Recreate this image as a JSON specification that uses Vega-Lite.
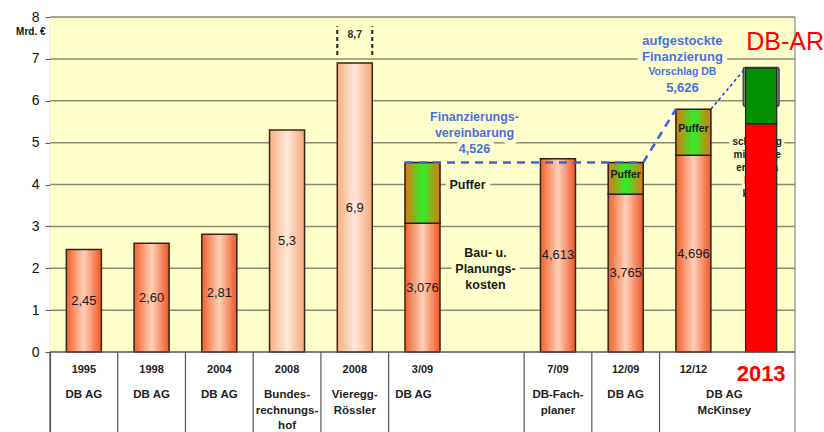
{
  "$schema": "https://vega.github.io/schema/vega-lite/v6.json",
  "width": 745,
  "height": 415,
  "autosize": {"type": "none"},
  "padding": {"left": 50, "top": 17, "right": 29, "bottom": 0},
  "background": "white",
  "resolve": {"axis": {"y": "independent"}},
  "config": {"view": {"stroke": null}, "font": "Liberation Sans",
    "axisX": {"disable": true},
    "axisY": {"labelFontSize": 14, "labelColor": "#111", "labelPadding": 6, "tickSize": 5, "tickColor": "#555", "domainColor": "#555", "domainWidth": 1.2, "grid": false,
      "titleAngle": 0, "titleAlign": "right", "titleBaseline": "middle", "titleX": -5, "titleY": 14, "titleFontSize": 10, "titleFontWeight": "bold", "titleColor": "#111"}},
  "datasets": {
    "bars": [
      {"col": "1995", "lo": 0, "hi": 2.45, "kind": "dark", "label": "2,45"},
      {"col": "1998", "lo": 0, "hi": 2.60, "kind": "dark", "label": "2,60"},
      {"col": "2004", "lo": 0, "hi": 2.81, "kind": "dark", "label": "2,81"},
      {"col": "2008 BRH", "lo": 0, "hi": 5.3, "kind": "light", "label": "5,3"},
      {"col": "2008 VR", "lo": 0, "hi": 6.9, "kind": "light", "label": "6,9"},
      {"col": "3/09", "lo": 0, "hi": 3.076, "kind": "dark", "label": "3,076"},
      {"col": "3/09", "lo": 3.076, "hi": 4.526, "kind": "puffer", "label": ""},
      {"col": "7/09", "lo": 0, "hi": 4.613, "kind": "dark", "label": "4,613"},
      {"col": "12/09", "lo": 0, "hi": 3.765, "kind": "dark", "label": "3,765"},
      {"col": "12/09", "lo": 3.765, "hi": 4.526, "kind": "puffer", "label": "Puffer"},
      {"col": "12/12", "lo": 0, "hi": 4.696, "kind": "dark", "label": "4,696"},
      {"col": "12/12", "lo": 4.696, "hi": 5.8, "kind": "puffer", "label": "Puffer"},
      {"col": "2013", "lo": 5.87, "hi": 6.8, "kind": "frame", "label": ""},
      {"col": "2013", "lo": 5.45, "hi": 6.78, "kind": "green", "label": ""},
      {"col": "2013", "lo": 0, "hi": 5.45, "kind": "red", "label": ""}
    ],
    "tbl": [
      {"col": "1995", "year": "1995", "src": "DB AG", "yv": -0.43, "sv": -0.884},
      {"col": "1998", "year": "1998", "src": "DB AG", "yv": -0.43, "sv": -0.884},
      {"col": "2004", "year": "2004", "src": "DB AG", "yv": -0.43, "sv": -0.884},
      {"col": "2008 BRH", "year": "2008", "src": "Bundes-\nrechnungs-\nhof", "yv": -0.43, "sv": -0.884},
      {"col": "2008 VR", "year": "2008", "src": "Vieregg-\nRössler", "yv": -0.43, "sv": -0.884},
      {"col": "3/09", "year": "3/09", "src": "DB AG", "yv": -0.43, "sv": -0.884},
      {"col": "7/09", "year": "7/09", "src": "DB-Fach-\nplaner", "yv": -0.43, "sv": -0.884},
      {"col": "12/09", "year": "12/09", "src": "DB AG", "yv": -0.43, "sv": -0.884},
      {"col": "12/12", "year": "12/12", "src": "DB AG\nMcKinsey", "yv": -0.43, "sv": -0.884}
    ]
  },
  "layer": [
    {
      "data": {"values": [{"lo": 0, "hi": 8}]},
      "mark": {"type": "rect", "fill": "#FFFFCC"},
      "encoding": {
        "y": {"field": "lo", "type": "quantitative", "scale": {"domain": [-1.91, 8], "nice": false, "zero": false}, "axis": null},
        "y2": {"field": "hi"}
      }
    },
    {
      "data": {"values": [{"v": 1}, {"v": 2}, {"v": 3}, {"v": 4}, {"v": 5}, {"v": 6}, {"v": 7}, {"v": 8}]},
      "mark": {"type": "rule", "color": "#8C8C72", "strokeWidth": 1.5},
      "encoding": {"y": {"field": "v", "type": "quantitative", "title": "Mrd. €", "axis": {"values": [0, 1, 2, 3, 4, 5, 6, 7, 8], "title": "Mrd. €"}}}
    },
    {
      "data": {"values": [{"col": "2013", "v": 5.13, "t": "schätzung\nmit Marge\nergibt ca\nlt. DB\nknapp"}]},
      "mark": {"type": "text", "lineBreak": "\n", "fontSize": 10, "fontWeight": "bold", "lineHeight": 13, "baseline": "top", "dx": -4, "fill": "#FFFFCC", "stroke": "#FFFFCC", "strokeWidth": 6},
      "encoding": {"x": {"field": "col", "type": "nominal"}, "y": {"field": "v", "type": "quantitative", "axis": null}, "text": {"field": "t"}}
    },
    {
      "data": {"values": [{"col": "2013", "v": 5.13, "t": "schätzung\nmit Marge\nergibt ca\nlt. DB\nknapp"}]},
      "mark": {"type": "text", "lineBreak": "\n", "fontSize": 10, "fontWeight": "bold", "lineHeight": 13, "baseline": "top", "dx": -4, "fill": "#222"},
      "encoding": {"x": {"field": "col", "type": "nominal"}, "y": {"field": "v", "type": "quantitative", "axis": null}, "text": {"field": "t"}}
    },
    {
      "data": {"values": [{"col": "3/09", "v": 4.0, "t": "Puffer"}]},
      "mark": {"type": "text", "fontSize": 12.5, "fontWeight": "bold", "dx": 45, "fill": "#FFFFCC", "stroke": "#FFFFCC", "strokeWidth": 9},
      "encoding": {"x": {"field": "col", "type": "nominal"}, "y": {"field": "v", "type": "quantitative", "axis": null}, "text": {"field": "t"}}
    },
    {
      "data": {"values": [{"col": "3/09", "v": 4.0, "t": "Puffer"}]},
      "mark": {"type": "text", "fontSize": 12.5, "fontWeight": "bold", "dx": 45, "fill": "#1a1a1a"},
      "encoding": {"x": {"field": "col", "type": "nominal"}, "y": {"field": "v", "type": "quantitative", "axis": null}, "text": {"field": "t"}}
    },
    {
      "data": {"values": [{"col": "3/09", "v": 2.5, "t": "Bau- u.\nPlanungs-\nkosten"}]},
      "mark": {"type": "text", "lineBreak": "\n", "fontSize": 12.5, "fontWeight": "bold", "lineHeight": 16, "baseline": "top", "dx": 63, "fill": "#FFFFCC", "stroke": "#FFFFCC", "strokeWidth": 9},
      "encoding": {"x": {"field": "col", "type": "nominal"}, "y": {"field": "v", "type": "quantitative", "axis": null}, "text": {"field": "t"}}
    },
    {
      "data": {"values": [{"col": "3/09", "v": 2.5, "t": "Bau- u.\nPlanungs-\nkosten"}]},
      "mark": {"type": "text", "lineBreak": "\n", "fontSize": 12.5, "fontWeight": "bold", "lineHeight": 16, "baseline": "top", "dx": 63, "fill": "#1a1a1a"},
      "encoding": {"x": {"field": "col", "type": "nominal"}, "y": {"field": "v", "type": "quantitative", "axis": null}, "text": {"field": "t"}}
    },
    {
      "data": {"values": [{"col": "3/09", "v": 5.755, "t": "Finanzierungs-\nvereinbarung\n4,526"}]},
      "mark": {"type": "text", "lineBreak": "\n", "fontSize": 12.5, "fontWeight": "bold", "lineHeight": 16, "baseline": "top", "dx": 52, "fill": "#FFFFCC", "stroke": "#FFFFCC", "strokeWidth": 10},
      "encoding": {"x": {"field": "col", "type": "nominal"}, "y": {"field": "v", "type": "quantitative", "axis": null}, "text": {"field": "t"}}
    },
    {
      "data": {"values": [{"col": "3/09", "v": 5.755, "t": "Finanzierungs-\nvereinbarung\n4,526"}]},
      "mark": {"type": "text", "lineBreak": "\n", "fontSize": 12.5, "fontWeight": "bold", "lineHeight": 16, "baseline": "top", "dx": 52, "fill": "#4A70E0"},
      "encoding": {"x": {"field": "col", "type": "nominal"}, "y": {"field": "v", "type": "quantitative", "axis": null}, "text": {"field": "t"}}
    },
    {
      "data": {"values": [{"col": "12/12", "v": 7.57, "t": "aufgestockte\nFinanzierung"}]},
      "mark": {"type": "text", "lineBreak": "\n", "fontSize": 13, "fontWeight": "bold", "lineHeight": 16, "baseline": "top", "dx": -11, "fill": "#FFFFCC", "stroke": "#FFFFCC", "strokeWidth": 10},
      "encoding": {"x": {"field": "col", "type": "nominal"}, "y": {"field": "v", "type": "quantitative", "axis": null}, "text": {"field": "t"}}
    },
    {
      "data": {"values": [{"col": "12/12", "v": 7.57, "t": "aufgestockte\nFinanzierung"}]},
      "mark": {"type": "text", "lineBreak": "\n", "fontSize": 13, "fontWeight": "bold", "lineHeight": 16, "baseline": "top", "dx": -11, "fill": "#4A70E0"},
      "encoding": {"x": {"field": "col", "type": "nominal"}, "y": {"field": "v", "type": "quantitative", "axis": null}, "text": {"field": "t"}}
    },
    {
      "data": {"values": [{"col": "12/12", "v": 6.69, "t": "Vorschlag DB"}]},
      "mark": {"type": "text", "fontSize": 10.5, "fontWeight": "bold", "dx": -11, "fill": "#4A70E0"},
      "encoding": {"x": {"field": "col", "type": "nominal"}, "y": {"field": "v", "type": "quantitative", "axis": null}, "text": {"field": "t"}}
    },
    {
      "data": {"values": [{"col": "12/12", "v": 6.30, "t": "5,626"}]},
      "mark": {"type": "text", "fontSize": 13, "fontWeight": "bold", "dx": -11, "fill": "#4A70E0"},
      "encoding": {"x": {"field": "col", "type": "nominal"}, "y": {"field": "v", "type": "quantitative", "axis": null}, "text": {"field": "t"}}
    },
    {
      "data": {"name": "bars"},
      "transform": [{"filter": "datum.kind === 'dark'"}],
      "mark": {"type": "bar", "width": {"band": 0.517}, "stroke": "#3B2314", "strokeWidth": 1.5,
        "fill": {"gradient": "linear", "x1": 0, "y1": 0, "x2": 1, "y2": 0, "stops": [{"offset": 0, "color": "#F2602C"}, {"offset": 0.5, "color": "#FFD0B8"}, {"offset": 1, "color": "#EF5626"}]}},
      "encoding": {
        "x": {"field": "col", "type": "nominal", "scale": {"domain": ["1995", "1998", "2004", "2008 BRH", "2008 VR", "3/09", "gap", "7/09", "12/09", "12/12", "2013"], "paddingInner": 0, "paddingOuter": 0}},
        "y": {"field": "lo", "type": "quantitative", "axis": null},
        "y2": {"field": "hi"}
      }
    },
    {
      "data": {"name": "bars"},
      "transform": [{"filter": "datum.kind === 'light'"}],
      "mark": {"type": "bar", "width": {"band": 0.517}, "stroke": "#3B2314", "strokeWidth": 1.5,
        "fill": {"gradient": "linear", "x1": 0, "y1": 0, "x2": 1, "y2": 0, "stops": [{"offset": 0, "color": "#F8AE84"}, {"offset": 0.5, "color": "#FFE8D8"}, {"offset": 1, "color": "#F6A67C"}]}},
      "encoding": {
        "x": {"field": "col", "type": "nominal"},
        "y": {"field": "lo", "type": "quantitative", "axis": null},
        "y2": {"field": "hi"}
      }
    },
    {
      "data": {"name": "bars"},
      "transform": [{"filter": "datum.kind === 'puffer'"}],
      "mark": {"type": "bar", "width": {"band": 0.517}, "stroke": "#2A1A10", "strokeWidth": 1.5,
        "fill": {"gradient": "linear", "x1": 0, "y1": 0, "x2": 1, "y2": 0, "stops": [{"offset": 0, "color": "#E0760E"}, {"offset": 0.5, "color": "#2CF02C"}, {"offset": 1, "color": "#E0760E"}]}},
      "encoding": {
        "x": {"field": "col", "type": "nominal"},
        "y": {"field": "lo", "type": "quantitative", "axis": null},
        "y2": {"field": "hi"}
      }
    },
    {
      "data": {"name": "bars"},
      "transform": [{"filter": "datum.kind === 'frame'"}],
      "mark": {"type": "bar", "width": {"band": 0.53}, "fill": "#8A8A8A", "stroke": "#333", "strokeWidth": 1.2, "cornerRadius": 2},
      "encoding": {
        "x": {"field": "col", "type": "nominal"},
        "y": {"field": "lo", "type": "quantitative", "axis": null},
        "y2": {"field": "hi"}
      }
    },
    {
      "data": {"name": "bars"},
      "transform": [{"filter": "datum.kind === 'green' || datum.kind === 'red'"}],
      "mark": {"type": "bar", "width": {"band": 0.46}, "stroke": "#222", "strokeWidth": 1.2},
      "encoding": {
        "x": {"field": "col", "type": "nominal"},
        "y": {"field": "lo", "type": "quantitative", "axis": null},
        "y2": {"field": "hi"},
        "fill": {"field": "kind", "type": "nominal", "scale": {"domain": ["green", "red"], "range": ["#009000", "#FF0000"]}, "legend": null}
      }
    },
    {
      "data": {"name": "bars"},
      "transform": [{"filter": "datum.label !== '' && datum.kind !== 'puffer'"}, {"calculate": "(datum.lo + datum.hi) / 2", "as": "mid"}],
      "mark": {"type": "text", "fontSize": 13, "fill": "#1a1a1a"},
      "encoding": {
        "x": {"field": "col", "type": "nominal"},
        "y": {"field": "mid", "type": "quantitative", "axis": null},
        "text": {"field": "label"}
      }
    },
    {
      "data": {"name": "bars"},
      "transform": [{"filter": "datum.label === 'Puffer'"}, {"calculate": "(datum.lo + datum.hi) / 2", "as": "mid"}],
      "mark": {"type": "text", "fontSize": 10.5, "fontWeight": "bold", "fill": "#1a1a1a", "dy": -3},
      "encoding": {
        "x": {"field": "col", "type": "nominal"},
        "y": {"field": "mid", "type": "quantitative", "axis": null},
        "text": {"field": "label"}
      }
    },
    {
      "data": {"values": [{"a": "3/09", "b": "12/09", "v": 4.526}]},
      "mark": {"type": "rule", "color": "#3A63E0", "strokeWidth": 2.5, "strokeDash": [8, 6]},
      "encoding": {
        "x": {"field": "a", "type": "nominal", "bandPosition": 0.2415},
        "x2": {"field": "b", "bandPosition": 0.7585},
        "y": {"field": "v", "type": "quantitative", "axis": null}
      }
    },
    {
      "data": {"values": [{"a": "12/09", "b": "12/12", "v1": 4.526, "v2": 5.8}]},
      "mark": {"type": "rule", "color": "#3A63E0", "strokeWidth": 2.5, "strokeDash": [8, 6]},
      "encoding": {
        "x": {"field": "a", "type": "nominal", "bandPosition": 0.7585},
        "x2": {"field": "b", "bandPosition": 0.2415},
        "y": {"field": "v1", "type": "quantitative", "axis": null},
        "y2": {"field": "v2"}
      }
    },
    {
      "data": {"values": [{"a": "12/12", "b": "2013", "v1": 5.8, "v2": 6.78}]},
      "mark": {"type": "rule", "color": "#1F2FE6", "strokeWidth": 1.5, "strokeDash": [3, 3]},
      "encoding": {
        "x": {"field": "a", "type": "nominal", "bandPosition": 0.7585},
        "x2": {"field": "b", "bandPosition": 0.27},
        "y": {"field": "v1", "type": "quantitative", "axis": null},
        "y2": {"field": "v2"}
      }
    },
    {
      "data": {"values": [{"col": "2008 VR", "lo": 7.09, "hi": 7.78}]},
      "mark": {"type": "rule", "color": "#222", "strokeWidth": 2, "strokeDash": [4, 3]},
      "encoding": {
        "x": {"field": "col", "type": "nominal", "bandPosition": 0.2415},
        "y": {"field": "lo", "type": "quantitative", "axis": null},
        "y2": {"field": "hi"}
      }
    },
    {
      "data": {"values": [{"col": "2008 VR", "lo": 7.09, "hi": 7.78}]},
      "mark": {"type": "rule", "color": "#222", "strokeWidth": 2, "strokeDash": [4, 3]},
      "encoding": {
        "x": {"field": "col", "type": "nominal", "bandPosition": 0.7585},
        "y": {"field": "lo", "type": "quantitative", "axis": null},
        "y2": {"field": "hi"}
      }
    },
    {
      "data": {"values": [{"col": "2008 VR", "v": 7.57, "t": "8,7"}]},
      "mark": {"type": "text", "fontSize": 10.5, "fontWeight": "bold", "fill": "#333"},
      "encoding": {"x": {"field": "col", "type": "nominal"}, "y": {"field": "v", "type": "quantitative", "axis": null}, "text": {"field": "t"}}
    },
    {
      "data": {"values": [{"v": 0}]},
      "mark": {"type": "rule", "color": "#555", "strokeWidth": 1.5},
      "encoding": {"y": {"field": "v", "type": "quantitative", "axis": null}}
    },
    {
      "data": {"values": [{"col": "1995", "lo": 0, "hi": -1.91}, {"col": "1998", "lo": 0, "hi": -1.91}, {"col": "2004", "lo": 0, "hi": -1.91}, {"col": "2008 BRH", "lo": 0, "hi": -1.91}, {"col": "2008 VR", "lo": 0, "hi": -1.91}, {"col": "3/09", "lo": 0, "hi": -1.91}, {"col": "7/09", "lo": 0, "hi": -1.91}, {"col": "12/09", "lo": 0, "hi": -1.91}, {"col": "12/12", "lo": 0, "hi": -1.91}]},
      "mark": {"type": "rule", "color": "#555", "strokeWidth": 1.2},
      "encoding": {
        "x": {"field": "col", "type": "nominal", "bandPosition": 0},
        "y": {"field": "lo", "type": "quantitative", "axis": null},
        "y2": {"field": "hi"}
      }
    },
    {
      "data": {"values": [{"col": "2013", "lo": 8, "hi": -1.91}]},
      "mark": {"type": "rule", "color": "#888", "strokeWidth": 1.2},
      "encoding": {
        "x": {"field": "col", "type": "nominal", "bandPosition": 1},
        "y": {"field": "lo", "type": "quantitative", "axis": null},
        "y2": {"field": "hi"}
      }
    },
    {
      "data": {"name": "tbl"},
      "mark": {"type": "text", "fontSize": 11, "fontWeight": "bold", "fill": "#222"},
      "encoding": {"x": {"field": "col", "type": "nominal"}, "y": {"field": "yv", "type": "quantitative", "axis": null}, "text": {"field": "year"}}
    },
    {
      "data": {"name": "tbl"},
      "transform": [{"filter": "datum.col !== '3/09' && datum.col !== '12/12'"}],
      "mark": {"type": "text", "fontSize": 11.5, "fontWeight": "bold", "fill": "#222", "lineBreak": "\n", "lineHeight": 15.5, "baseline": "top"},
      "encoding": {"x": {"field": "col", "type": "nominal"}, "y": {"field": "sv", "type": "quantitative", "axis": null}, "text": {"field": "src"}}
    },
    {
      "data": {"name": "tbl"},
      "transform": [{"filter": "datum.col === '3/09'"}],
      "mark": {"type": "text", "fontSize": 11.5, "fontWeight": "bold", "fill": "#222", "lineBreak": "\n", "lineHeight": 15.5, "baseline": "top", "dx": -9},
      "encoding": {"x": {"field": "col", "type": "nominal"}, "y": {"field": "sv", "type": "quantitative", "axis": null}, "text": {"field": "src"}}
    },
    {
      "data": {"name": "tbl"},
      "transform": [{"filter": "datum.col === '12/12'"}],
      "mark": {"type": "text", "fontSize": 11.5, "fontWeight": "bold", "fill": "#222", "lineBreak": "\n", "lineHeight": 15.5, "baseline": "top", "dx": 31},
      "encoding": {"x": {"field": "col", "type": "nominal"}, "y": {"field": "sv", "type": "quantitative", "axis": null}, "text": {"field": "src"}}
    },
    {
      "data": {"values": [{"col": "2013", "v": -0.52, "t": "2013"}]},
      "mark": {"type": "text", "fontSize": 22, "fontWeight": "bold", "fill": "#FF0000"},
      "encoding": {"x": {"field": "col", "type": "nominal"}, "y": {"field": "v", "type": "quantitative", "axis": null}, "text": {"field": "t"}}
    },
    {
      "data": {"values": [{"col": "2013", "v": 7.4, "t": "DB-AR"}]},
      "mark": {"type": "text", "fontSize": 25, "fill": "#FF0000", "dx": 24},
      "encoding": {"x": {"field": "col", "type": "nominal"}, "y": {"field": "v", "type": "quantitative", "axis": null}, "text": {"field": "t"}}
    }
  ]
}
